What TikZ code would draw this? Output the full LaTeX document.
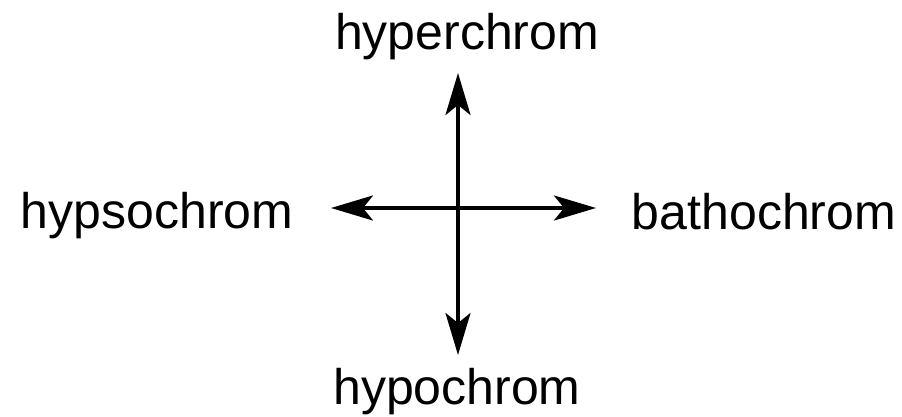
\documentclass[tikz,border=0pt]{standalone}
\usepackage{fontspec}
\setmainfont{Liberation Sans}
\usetikzlibrary{arrows.meta}
\begin{document}
\begin{tikzpicture}[x=1pt,y=-1pt,
  lbl/.style={anchor=base,inner sep=0pt,font=\fontsize{50}{60}\selectfont},
  arr/.style={line width=3.4pt,{Stealth[length=42pt,width=25pt,inset=10pt]}-{Stealth[length=42pt,width=25pt,inset=10pt]}}]
\useasboundingbox (0,0) rectangle (902,416);
\coordinate (t) at (458,73);
\coordinate (b) at (458,355);
\coordinate (l) at (331,208);
\coordinate (r) at (596,208);
\draw[arr] (b) -- (t);
\draw[arr] (l) -- (r);
\node[lbl] (hyper) at (467,49) {hyperchrom};
\node[lbl] (hypo) at (457,404) {hypochrom};
\node[lbl] (hyps) at (157,228) {hypsochrom};
\node[lbl] (batho) at (764,229) {bathochrom};
\end{tikzpicture}
\end{document}
